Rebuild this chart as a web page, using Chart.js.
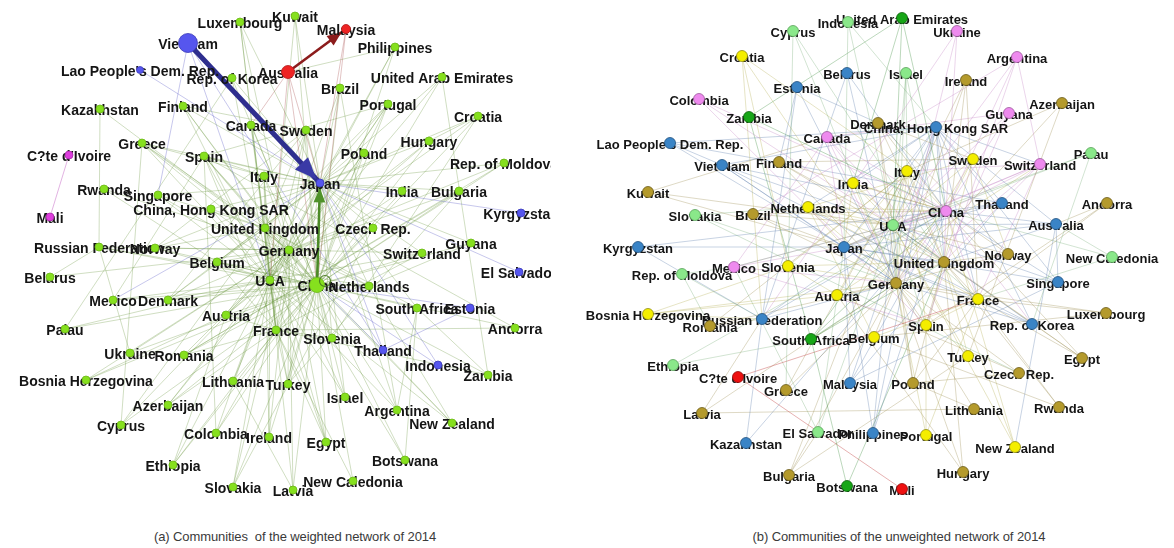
<!DOCTYPE html>
<html>
<head>
<meta charset="utf-8">
<script src="https://cdn.jsdelivr.net/npm/chart.js@4.4.1/dist/chart.umd.min.js"></script>
<style>
  html, body { margin: 0; padding: 0; background: #fff; width: 1174px; height: 548px; overflow: hidden; }
  canvas { position: absolute; top: 0; }
  #netA { left: 0; }
  #netB { left: 575px; }
  .cap { position: absolute; top: 529px; width: 420px; text-align: center; white-space: pre;
         font: 13px 'Liberation Sans', Arial, sans-serif; color: #3a3a3a; letter-spacing: -0.1px; }
</style>
</head>
<body>
<canvas id="netA" width="551" height="505"></canvas>
<canvas id="netB" width="599" height="505"></canvas>
<div class="cap" style="left:85px">(a) Communities  of the weighted network of 2014</div>
<div class="cap" style="left:689px">(b) Communities of the unweighted network of 2014</div>
<script>
// ---- Network (a): weighted trade network, layout coordinates + community ----
// community codes: g = main, b = east-asia, r = oceania, m = west-africa
const weightedNodes = [
  ['Luxembourg', 240, 22, 'g'], ['Kuwait', 295, 16, 'g'], ['Viet Nam', 188, 43, 'b'],
  ['Malaysia', 346, 29, 'r'], ['Philippines', 395, 47, 'g'], ["Lao People's Dem. Rep.", 140, 70, 'b'],
  ['Rep. of Korea', 232, 78, 'g'], ['Australia', 288, 72, 'r'], ['United Arab Emirates', 442, 77, 'g'],
  ['Kazakhstan', 100, 109, 'g'], ['Finland', 183, 106, 'g'], ['Brazil', 340, 88, 'g'],
  ['Portugal', 388, 104, 'g'], ['Croatia', 478, 116, 'g'], ['Canada', 251, 125, 'g'],
  ['Sweden', 306, 130, 'g'], ['Greece', 142, 143, 'g'], ['Hungary', 429, 141, 'g'],
  ["C?te d'Ivoire", 69, 155, 'm'], ['Spain', 204, 156, 'g'], ['Poland', 364, 153, 'g'],
  ['Rep. of Moldova', 504, 163, 'g'], ['Italy', 264, 176, 'g'], ['Japan', 320, 183, 'b'],
  ['Rwanda', 104, 189, 'g'], ['Singapore', 158, 195, 'g'], ['India', 402, 191, 'g'],
  ['Bulgaria', 459, 191, 'g'], ['Mali', 50, 217, 'm'], ['China, Hong Kong SAR', 211, 209, 'g'],
  ['Kyrgyzstan', 521, 213, 'b'], ['United Kingdom', 265, 228, 'g'], ['Czech Rep.', 373, 228, 'g'],
  ['Russian Federation', 99, 247, 'g'], ['Norway', 155, 248, 'g'], ['Guyana', 471, 243, 'g'],
  ['Germany', 289, 250, 'g'], ['Switzerland', 422, 253, 'g'], ['Belgium', 217, 262, 'g'],
  ['USA', 270, 280, 'g'], ['El Salvador', 519, 272, 'b'], ['Belarus', 50, 277, 'g'],
  ['China', 317, 285, 'g'], ['Netherlands', 369, 286, 'g'], ['Mexico', 113, 300, 'g'],
  ['Denmark', 168, 300, 'g'], ['South Africa', 417, 308, 'g'], ['Estonia', 470, 308, 'b'],
  ['Austria', 226, 315, 'g'], ['Palau', 65, 329, 'g'], ['France', 276, 330, 'g'],
  ['Andorra', 515, 328, 'g'], ['Slovenia', 332, 338, 'g'], ['Thailand', 383, 350, 'b'],
  ['Ukraine', 130, 353, 'g'], ['Romania', 184, 355, 'g'], ['Indonesia', 438, 365, 'b'],
  ['Zambia', 488, 375, 'g'], ['Bosnia Herzegovina', 86, 380, 'g'], ['Lithuania', 233, 381, 'g'],
  ['Turkey', 288, 384, 'g'], ['Israel', 345, 397, 'g'], ['Azerbaijan', 168, 405, 'g'],
  ['Argentina', 397, 410, 'g'], ['New Zealand', 452, 423, 'g'], ['Cyprus', 121, 425, 'g'],
  ['Colombia', 216, 433, 'g'], ['Ireland', 269, 437, 'g'], ['Egypt', 326, 442, 'g'],
  ['Botswana', 405, 460, 'g'], ['Ethiopia', 173, 465, 'g'], ['New Caledonia', 353, 481, 'g'],
  ['Slovakia', 233, 487, 'g'], ['Latvia', 293, 490, 'g']
];

// strongest flows of network (a): [exporter, importer, weight]
const weightedFlows = [
  ['Viet Nam', 'Japan', 5],
  ['China', 'Japan', 2.6],
  ['Australia', 'Malaysia', 2.6]
];

// short names used in the edge lists
const alias = {
  HK: 'China, Hong Kong SAR', UK: 'United Kingdom', UAE: 'United Arab Emirates', Korea: 'Rep. of Korea',
  Lao: "Lao People's Dem. Rep.", Moldova: 'Rep. of Moldova', Russia: 'Russian Federation',
  Bosnia: 'Bosnia Herzegovina', CIV: "C?te d'Ivoire", Czech: 'Czech Rep.', NZ: 'New Zealand',
  NC: 'New Caledonia', SA: 'South Africa', VN: 'Viet Nam', ES: 'El Salvador'
};

// links of network (a), source first
const weightedLinks = [
  // towards Japan
  'Luxembourg|Japan','Kuwait|Japan','Philippines|Japan','Korea|Japan','Brazil|Japan','Portugal|Japan',
  'Sweden|Japan','Canada|Japan','Finland|Japan','Spain|Japan','Poland|Japan','Hungary|Japan','Italy|Japan',
  'India|Japan','Bulgaria|Japan','UAE|Japan','Singapore|Japan','HK|Japan','UK|Japan','Czech|Japan',
  'Germany|Japan','USA|Japan','Switzerland|Japan','Netherlands|Japan','SA|Japan','Slovenia|Japan',
  'Guyana|Japan','Croatia|Japan','Greece|Japan','Belgium|Japan','France|Japan','Austria|Japan',
  'Turkey|Japan','Israel|Japan','Argentina|Japan','Norway|Japan','Denmark|Japan','Moldova|Japan',
  'Lao|Japan','Kyrgyzstan|Japan','ES|Japan','Thailand|Japan','Indonesia|Japan','Japan|Mexico',
  'Estonia|Thailand','VN|Thailand','VN|USA','VN|Singapore','Indonesia|China','Thailand|China','Estonia|China',
  'Australia|Japan','Australia|China','Australia|USA','Australia|Canada','Malaysia|Japan','Malaysia|China',
  'CIV|Mali',
  // towards China
  'USA|China','Germany|China','UK|China','Netherlands|China','SA|China','Slovenia|China','France|China',
  'Austria|China','Turkey|China','Israel|China','Argentina|China','NZ|China','Egypt|China','Botswana|China',
  'Zambia|China','Andorra|China','Lithuania|China','Slovakia|China','Latvia|China','Ireland|China',
  'Colombia|China','Ethiopia|China','Romania|China','Ukraine|China','Denmark|China','Belgium|China',
  'Switzerland|China','Czech|China','Guyana|China','Bulgaria|China','India|China','Poland|China',
  'Spain|China','Italy|China','Singapore|China','HK|China','Norway|China','Russia|China','NC|China',
  'Azerbaijan|China','Cyprus|China','Moldova|China','Hungary|China','Portugal|China','Brazil|China',
  'Canada|China','Sweden|China','Finland|China','Philippines|China','Korea|China','Kuwait|China',
  'Croatia|China','Bosnia|China','Greece|China','UAE|China','Palau|China','Mexico|China',
  // towards USA
  'Germany|USA','UK|USA','France|USA','Italy|USA','Spain|USA','Canada|USA','Mexico|USA','Belgium|USA',
  'Netherlands|USA','Palau|USA','Colombia|USA','Ireland|USA','Israel|USA','Switzerland|USA','Brazil|USA',
  'Sweden|USA','Finland|USA','Denmark|USA','Norway|USA','Austria|USA','Singapore|USA','HK|USA','Korea|USA',
  'Kuwait|USA','UAE|USA','Philippines|USA','Egypt|USA','Argentina|USA','NZ|USA','Turkey|USA','Greece|USA',
  'Portugal|USA','Poland|USA','India|USA','Russia|USA','Luxembourg|USA','Lithuania|USA','Slovakia|USA',
  'Latvia|USA','Ethiopia|USA','Azerbaijan|USA',
  // towards Germany
  'UK|Germany','France|Germany','Italy|Germany','Spain|Germany','Austria|Germany','Belgium|Germany',
  'Netherlands|Germany','Switzerland|Germany','Czech|Germany','Poland|Germany','Hungary|Germany',
  'Slovakia|Germany','Slovenia|Germany','Croatia|Germany','Romania|Germany','Bulgaria|Germany',
  'Lithuania|Germany','Latvia|Germany','Denmark|Germany','Sweden|Germany','Finland|Germany','Norway|Germany',
  'Luxembourg|Germany','Ukraine|Germany','Russia|Germany','Belarus|Germany','Turkey|Germany',
  'Moldova|Germany','Bosnia|Germany','Azerbaijan|Germany','Cyprus|Germany','Greece|Germany',
  'Portugal|Germany','Ireland|Germany','Egypt|Germany','Rwanda|Germany','Kazakhstan|Germany',
  // towards United Kingdom
  'France|UK','Spain|UK','Italy|UK','Ireland|UK','Netherlands|UK','Belgium|UK','Sweden|UK','Norway|UK',
  'Denmark|UK','Canada|UK','Cyprus|UK','SA|UK','NZ|UK','Singapore|UK','HK|UK','Greece|UK','Portugal|UK',
  'Egypt|UK','Israel|UK','Botswana|UK',
  // towards France
  'Spain|France','Italy|France','Belgium|France','Switzerland|France','Austria|France','Andorra|France',
  'NC|France','Ethiopia|France','Colombia|France','Slovenia|France','Romania|France','Portugal|France',
  'Luxembourg|France','Egypt|France','Turkey|France','Azerbaijan|France','Zambia|France',
  // regional links
  'Kazakhstan|Russia','Belarus|Russia','Rwanda|Belgium','UAE|Zambia','Botswana|SA','Argentina|Brazil',
  'Ukraine|Russia','Moldova|Romania','Bosnia|Austria','Cyprus|Greece','Latvia|Lithuania','Slovakia|Czech',
  'Zambia|SA','Andorra|Spain','Croatia|Slovenia','Croatia|Hungary','Hungary|Austria','Netherlands|Belgium',
  'Spain|Portugal','Italy|Spain','Denmark|Sweden','Norway|Sweden','Finland|Sweden','Greece|Italy',
  'Philippines|Australia','Argentina|SA','Guyana|Netherlands','Bulgaria|Romania','Bulgaria|Turkey',
  'Ethiopia|Austria','Colombia|Spain','Mexico|Spain','Palau|Korea','NZ|Netherlands'
];

// ---- Network (b): unweighted trade network ----
// community codes: y = yellow, o = olive, b = blue, p = pink, lg = light green, dg = dark green, r = red
const unweightedNodes = [
  ['Cyprus', 793, 31, 'lg'], ['Indonesia', 848, 22, 'lg'], ['United Arab Emirates', 902, 18, 'dg'],
  ['Ukraine', 957, 31, 'p'], ['Croatia', 742, 56, 'y'], ['Argentina', 1017, 57, 'p'],
  ['Belarus', 847, 73, 'b'], ['Israel', 906, 73, 'lg'], ['Ireland', 966, 80, 'o'],
  ['Estonia', 797, 87, 'b'], ['Colombia', 699, 99, 'p'], ['Azerbaijan', 1062, 103, 'o'],
  ['Guyana', 1009, 113, 'p'], ['Zambia', 749, 117, 'dg'], ['Denmark', 878, 123, 'o'],
  ['China, Hong Kong SAR', 936, 127, 'b'], ['Canada', 827, 137, 'p'], ["Lao People's Dem. Rep.", 670, 143, 'b'],
  ['Palau', 1091, 153, 'lg'], ['Sweden', 973, 159, 'y'], ['Finland', 779, 162, 'o'],
  ['Switzerland', 1040, 164, 'p'], ['Viet Nam', 722, 165, 'b'], ['Italy', 907, 171, 'y'],
  ['India', 853, 183, 'y'], ['Kuwait', 648, 192, 'o'], ['Thailand', 1002, 203, 'b'],
  ['Andorra', 1107, 203, 'o'], ['Netherlands', 808, 207, 'y'], ['China', 946, 211, 'p'],
  ['Brazil', 753, 214, 'o'], ['Slovakia', 695, 215, 'lg'], ['Australia', 1056, 224, 'b'],
  ['USA', 893, 225, 'lg'], ['Kyrgyzstan', 638, 247, 'b'], ['Japan', 844, 247, 'b'],
  ['Norway', 1008, 254, 'o'], ['New Caledonia', 1112, 257, 'lg'], ['United Kingdom', 944, 262, 'o'],
  ['Slovenia', 788, 266, 'y'], ['Mexico', 734, 267, 'p'], ['Rep. of Moldova', 682, 274, 'lg'],
  ['Germany', 896, 283, 'o'], ['Singapore', 1058, 282, 'b'], ['Austria', 837, 295, 'y'],
  ['France', 978, 299, 'y'], ['Luxembourg', 1106, 313, 'o'], ['Bosnia Herzegovina', 648, 314, 'y'],
  ['Russian Federation', 762, 319, 'b'], ['Spain', 926, 325, 'y'], ['Rep. of Korea', 1032, 324, 'b'],
  ['Romania', 710, 326, 'o'], ['Belgium', 874, 337, 'y'], ['South Africa', 811, 339, 'dg'],
  ['Turkey', 968, 356, 'y'], ['Egypt', 1082, 358, 'o'], ['Ethiopia', 673, 365, 'lg'],
  ["C?te d'Ivoire", 738, 377, 'r'], ['Czech Rep.', 1019, 373, 'o'], ['Poland', 913, 383, 'o'],
  ['Malaysia', 850, 383, 'b'], ['Greece', 786, 390, 'o'], ['Rwanda', 1059, 407, 'o'],
  ['Lithuania', 974, 409, 'o'], ['Latvia', 702, 413, 'o'], ['El Salvador', 818, 432, 'lg'],
  ['Philippines', 873, 433, 'b'], ['Portugal', 926, 435, 'y'], ['Kazakhstan', 746, 443, 'b'],
  ['New Zealand', 1015, 447, 'y'], ['Hungary', 963, 472, 'o'], ['Bulgaria', 789, 475, 'o'],
  ['Botswana', 847, 486, 'dg'], ['Mali', 902, 489, 'r']
];

const unweightedLinks = [
  'Cyprus|UK','Cyprus|Greece','Cyprus|Germany','Indonesia|Japan','Indonesia|HK','Indonesia|USA',
  'UAE|Zambia','UAE|India','UAE|China','UAE|USA','Ukraine|China','Ukraine|Germany','Ukraine|Russia',
  'Croatia|Slovenia','Croatia|Germany','Croatia|Italy','Croatia|Russia','Belarus|Russia','Belarus|Germany',
  'Belarus|China','Israel|Italy','Israel|USA','Israel|Germany','Israel|UK','Argentina|Switzerland',
  'Argentina|China','Argentina|Spain','Argentina|Brazil','Argentina|USA','Ireland|UK','Ireland|USA',
  'Ireland|Germany','Ireland|France','Estonia|Finland','Estonia|Germany','Estonia|Denmark','Estonia|Russia',
  'Colombia|China','Colombia|USA','Colombia|Spain','Zambia|SA','Zambia|China','Azerbaijan|Turkey',
  'Azerbaijan|Germany','Azerbaijan|Italy','Guyana|USA','Guyana|UK','Guyana|Canada','Guyana|China',
  'Canada|USA','Canada|China','Canada|UK','Canada|Japan','Canada|Germany','Canada|Mexico',
  'Denmark|Germany','Denmark|UK','Denmark|USA','Denmark|Sweden','Denmark|Norway','Denmark|China',
  'HK|China','HK|USA','HK|Japan','HK|UK','HK|Germany','HK|Singapore','HK|Australia','HK|Thailand','HK|VN',
  'HK|Korea','HK|Switzerland','HK|Malaysia','HK|Philippines','HK|France','HK|Italy','HK|Canada','HK|India',
  'HK|Netherlands','Lao|VN','Lao|Thailand','Lao|HK','Lao|Japan','Palau|Japan','Palau|Korea','Palau|USA',
  'VN|Japan','VN|USA','VN|China','VN|Korea','VN|Germany','Finland|Germany','Finland|Sweden','Finland|UK',
  'Finland|USA','Finland|China','Sweden|Germany','Sweden|UK','Sweden|USA','Sweden|China','Sweden|Norway',
  'Sweden|Netherlands','Switzerland|China','Switzerland|USA','Switzerland|Germany','Switzerland|France',
  'Switzerland|Italy','Switzerland|UK','Switzerland|Japan','Italy|Germany','Italy|France','Italy|USA',
  'Italy|UK','Italy|Spain','Italy|China','Italy|Japan','India|USA','India|China','India|UK','India|Germany',
  'India|Japan','Kuwait|Canada','Kuwait|Japan','Kuwait|USA','Thailand|Japan','Thailand|China','Thailand|USA',
  'Thailand|Malaysia','Andorra|Spain','Andorra|France','Andorra|Australia','Netherlands|Germany',
  'Netherlands|UK','Netherlands|USA','Netherlands|Belgium','Netherlands|China','Netherlands|Japan',
  'Netherlands|France','Slovakia|Germany','Slovakia|Czech','Slovakia|Netherlands','Brazil|USA','Brazil|China',
  'Brazil|Germany','Brazil|Japan','China|USA','China|Japan','China|UK','China|Germany','China|France',
  'China|Korea','USA|UK','USA|Germany','USA|France','USA|Japan','USA|Mexico','USA|Spain','Australia|China',
  'Australia|Japan','Australia|USA','Australia|UK','Australia|Singapore','Australia|NZ','Kyrgyzstan|Japan',
  'Kyrgyzstan|Russia','Kyrgyzstan|China','Japan|Germany','Japan|UK','Japan|France','Norway|UK',
  'Norway|Germany','Norway|USA','Norway|China','NC|France','NC|Australia','NC|China','UK|Germany','UK|France',
  'UK|Spain','Mexico|Japan','Mexico|Spain','Mexico|Germany','Mexico|China','Slovenia|Germany',
  'Slovenia|Austria','Slovenia|Italy','Slovenia|UK','Moldova|Romania','Moldova|Russia','Moldova|Mexico',
  'Germany|France','Germany|Spain','Germany|Austria','Germany|Belgium','Singapore|China','Singapore|USA',
  'Singapore|Japan','Singapore|Malaysia','Austria|Italy','Austria|Switzerland','France|Spain','France|Belgium',
  'Luxembourg|Germany','Luxembourg|France','Luxembourg|Belgium','Bosnia|Russia','Bosnia|Austria',
  'Bosnia|Slovenia','Bosnia|Germany','Russia|Germany','Russia|China','Russia|Kazakhstan','Russia|USA',
  'Romania|Germany','Romania|Italy','Romania|Russia','Korea|China','Korea|USA','Korea|Japan','Korea|Germany',
  'SA|China','SA|USA','SA|UK','SA|Germany','SA|Botswana','Belgium|Netherlands','Turkey|Germany','Turkey|UK',
  'Turkey|USA','Egypt|USA','Egypt|France','Egypt|UK','Egypt|China','Ethiopia|SA','Ethiopia|China',
  'CIV|Mali','CIV|France','Malaysia|China','Malaysia|Japan','Poland|Germany','Poland|UK','Poland|USA',
  'Poland|France','Czech|Germany','Czech|Poland','Czech|Austria','Greece|Germany','Greece|Italy',
  'Latvia|Germany','Latvia|Russia','Latvia|Lithuania','Lithuania|Germany','Lithuania|Poland','Rwanda|France',
  'Rwanda|Belgium','Rwanda|UK','ES|USA','ES|Mexico','ES|Japan','Bulgaria|ES','Philippines|Japan',
  'Philippines|USA','Philippines|China','Portugal|Spain','Portugal|France','Portugal|Germany','NZ|Australia',
  'NZ|China','NZ|USA','NZ|UK','Kazakhstan|China','Bulgaria|Germany','Bulgaria|Italy','Bulgaria|Turkey',
  'Botswana|UK','Hungary|Germany','Hungary|Austria','Hungary|UK'
];

// ---- styling ----
const styleA = {
  fill:   { g: '#86e01e', b: '#5656ee', r: '#ee2424', m: '#dd3ddd' },
  stroke: { g: '#6cb818', b: '#3a3ab8', r: '#b01818', m: '#a82aa8' },
  link:   { g: 'rgba(105,150,60,0.42)', b: 'rgba(90,90,200,0.45)', r: 'rgba(170,80,80,0.45)', m: 'rgba(200,110,200,0.7)' },
  radius: { 'Viet Nam': 9.5, 'Australia': 6.5, 'China': 7.5, 'Malaysia': 4.5, "Lao People's Dem. Rep.": 3.5 },
  baseRadius: 4,
  flowColor: { 'Viet Nam': '#2e2e8e', 'China': '#4b8a26', 'Australia': '#8c1c1c' },
  headColor: { 'Viet Nam': '#3a3aa6', 'China': '#4f922a', 'Australia': '#8c1c1c' },
  font: 'bold 14px "Liberation Sans", Arial, sans-serif',
  loops: ['China']
};
const styleB = {
  fill:   { y: '#f4ee00', o: '#b49a2c', b: '#3a84c6', p: '#ee8aee', lg: '#8ae88a', dg: '#17a617', r: '#ee1010' },
  stroke: { y: '#8e8a10', o: '#6a5a18', b: '#21507e', p: '#9a589a', lg: '#58a058', dg: '#0a600a', r: '#900808' },
  link:   { y: 'rgba(175,170,70,0.42)', o: 'rgba(150,135,70,0.42)', b: 'rgba(80,115,165,0.42)',
            p: 'rgba(190,120,190,0.42)', lg: 'rgba(110,170,110,0.42)', dg: 'rgba(40,130,40,0.42)', r: 'rgba(200,80,80,0.6)' },
  radius: {},
  baseRadius: 5.5,
  font: 'bold 13px "Liberation Sans", Arial, sans-serif',
  loops: []
};

const full = n => alias[n] || n;

// Draws node names (under the node markers) and arrowheads of weighted flows
const networkPlugin = {
  id: 'networkDecor',
  beforeDatasetDraw(chart, args) {
    if (args.index !== 0) return;
    const cfg = chart.config.options.plugins.networkDecor;
    const { ctx, scales } = chart;
    ctx.save();
    ctx.font = cfg.font;
    ctx.fillStyle = '#151515';
    ctx.textAlign = 'center';
    ctx.textBaseline = 'middle';
    cfg.nodes.forEach(n => {
      ctx.fillText(n[0], scales.x.getPixelForValue(n[1]), scales.y.getPixelForValue(n[2]) + 2);
    });
    ctx.restore();
  },
  afterDatasetDraw(chart, args) {
    const ds = chart.data.datasets[args.index];
    const { ctx, scales } = chart;
    if (ds.arrowHead) {
      const [a, b] = ds.data;
      const x0 = scales.x.getPixelForValue(a.x), y0 = scales.y.getPixelForValue(a.y);
      const x1 = scales.x.getPixelForValue(b.x), y1 = scales.y.getPixelForValue(b.y);
      const len = Math.hypot(x1 - x0, y1 - y0), ux = (x1 - x0) / len, uy = (y1 - y0) / len;
      const tipX = x1 - ux * (ds.targetRadius + 1), tipY = y1 - uy * (ds.targetRadius + 1);
      const h = ds.arrowHead, w = ds.arrowWidth / 2;
      const bx = tipX - ux * h, by = tipY - uy * h;
      ctx.save();
      ctx.fillStyle = ds.headColor;
      ctx.beginPath();
      ctx.moveTo(tipX, tipY);
      ctx.lineTo(bx - uy * w, by + ux * w);
      ctx.lineTo(bx + uy * w, by - ux * w);
      ctx.closePath();
      ctx.fill();
      ctx.restore();
    }
  },
  afterDatasetsDraw(chart) {
    const cfg = chart.config.options.plugins.networkDecor;
    const { ctx, scales } = chart;
    cfg.loops.forEach(name => {
      const n = cfg.nodes.find(v => v[0] === name);
      const px = scales.x.getPixelForValue(n[1]), py = scales.y.getPixelForValue(n[2]);
      ctx.save();
      ctx.strokeStyle = 'rgba(70,120,30,0.9)';
      ctx.lineWidth = 1.2;
      ctx.beginPath();
      ctx.arc(px + 8, py - 4, 5.5, 0, Math.PI * 2);
      ctx.stroke();
      ctx.restore();
    });
  }
};

function buildNetwork(canvasId, nodes, links, flows, style, xMin, xMax) {
  const byName = {};
  nodes.forEach(n => { byName[n[0]] = n; });
  const radiusOf = name => style.radius[name] || style.baseRadius;

  const nodeSet = {
    label: 'nodes',
    data: nodes.map(n => ({ x: n[1], y: n[2] })),
    pointRadius: nodes.map(n => radiusOf(n[0])),
    pointBackgroundColor: nodes.map(n => style.fill[n[3]]),
    pointBorderColor: nodes.map(n => style.stroke[n[3]]),
    pointBorderWidth: 0.8,
    showLine: false
  };

  const seen = new Set();
  const linkSets = [];
  links.forEach(s => {
    const [a, b] = s.split('|').map(full);
    const key = [a, b].sort().join('~');
    if (seen.has(key) || !byName[a] || !byName[b]) return;
    seen.add(key);
    linkSets.push({
      data: [{ x: byName[a][1], y: byName[a][2] }, { x: byName[b][1], y: byName[b][2] }],
      showLine: true, pointRadius: 0, borderWidth: 0.75,
      borderColor: style.link[byName[a][3]]
    });
  });

  const flowSets = flows.map(f => {
    const a = byName[f[0]], b = byName[f[1]];
    return {
      data: [{ x: a[1], y: a[2] }, { x: b[1], y: b[2] }],
      showLine: true, pointRadius: 0, borderWidth: f[2],
      borderColor: style.flowColor[f[0]],
      arrowHead: 6 + f[2] * 3.2, arrowWidth: 5 + f[2] * 2.6,
      headColor: style.headColor[f[0]], targetRadius: radiusOf(f[1])
    };
  });

  return new Chart(document.getElementById(canvasId), {
    type: 'scatter',
    data: { datasets: [nodeSet, ...flowSets, ...linkSets] },
    options: {
      responsive: false, animation: false, events: [],
      layout: { padding: 0, autoPadding: false },
      scales: {
        x: { type: 'linear', display: false, min: xMin, max: xMax },
        y: { type: 'linear', display: false, min: 0, max: 505, reverse: true }
      },
      plugins: {
        legend: { display: false }, tooltip: { enabled: false },
        networkDecor: { nodes, font: style.font, loops: style.loops }
      }
    },
    plugins: [networkPlugin]
  });
}

buildNetwork('netA', weightedNodes, weightedLinks, weightedFlows, styleA, 0, 551);
buildNetwork('netB', unweightedNodes, unweightedLinks, [], styleB, 575, 1174);
</script>
</body>
</html>
